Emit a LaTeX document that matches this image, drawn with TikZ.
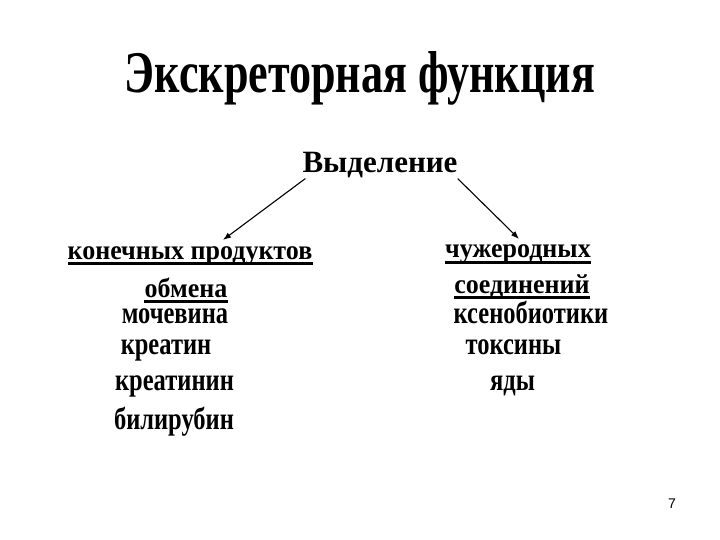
\documentclass[tikz,border=0pt]{standalone}
\usepackage{fontspec}
\setmainfont{Liberation Serif}
\newfontfamily\pagenumfont{Liberation Sans}
\usetikzlibrary{arrows.meta}
\newcommand\itemtxt[1]{\scalebox{1}[1.28]{#1}}
\newcommand\headtxt[1]{\scalebox{1}[1.05]{#1}}
\tikzset{
  txt/.style={anchor=base, inner sep=0pt},
  head/.style={txt, font=\fontsize{26}{28}\selectfont\bfseries},
  item/.style={txt, font=\fontsize{24.5}{26}\selectfont\bfseries},
  ulline/.style={line width=3pt},
  arr/.style={line width=1.1pt, -{Latex[length=8pt,width=6pt]}}
}
\begin{document}
\begin{tikzpicture}[x=1pt,y=-1pt]
\useasboundingbox[fill=white] (0,0) rectangle (720,540);
\node[txt, font=\fontsize{38}{40}\selectfont\bfseries] (title) at (360,93) {\resizebox{470pt}{41pt}{Экскреторная функция}};
\node[txt, font=\fontsize{31}{33}\selectfont\bfseries] (vyd) at (380,173) {Выделение};
\node[head] (k1) at (190,259) {\headtxt{конечных продуктов}};
\node[head] (k2) at (186,297) {\headtxt{обмена}};
\node[head] (c1) at (518,258) {\headtxt{чужеродных}};
\node[head] (c2) at (522,293) {\headtxt{соединений}};
\node[item] (l1) at (175,323) {\itemtxt{мочевина}};
\node[item] (l2) at (166,354) {\itemtxt{креатин}};
\node[item] (l3) at (174.5,390) {\itemtxt{креатинин}};
\node[item] (l4) at (174,429) {\itemtxt{билирубин}};
\node[item] (r1) at (531,323) {\itemtxt{ксенобиотики}};
\node[item] (r2) at (513.5,354) {\itemtxt{токсины}};
\node[item] (r3) at (512.5,390) {\itemtxt{яды}};
\node[anchor=base, inner sep=0pt, font=\pagenumfont\fontsize{14}{14}\selectfont] (pg) at (672,508) {7};
\foreach \n in {k1,k2,c1,c2}{
  \draw[ulline] ([yshift=-4.5pt]\n.base west) -- ([yshift=-4.5pt]\n.base east);
}
\draw[arr] ([xshift=3pt]vyd.south west) -- ([xshift=33pt,yshift=6pt]k1.north);
\draw[arr] (vyd.south east) -- ([xshift=1pt,yshift=6pt]c1.north);
\end{tikzpicture}
\end{document}
